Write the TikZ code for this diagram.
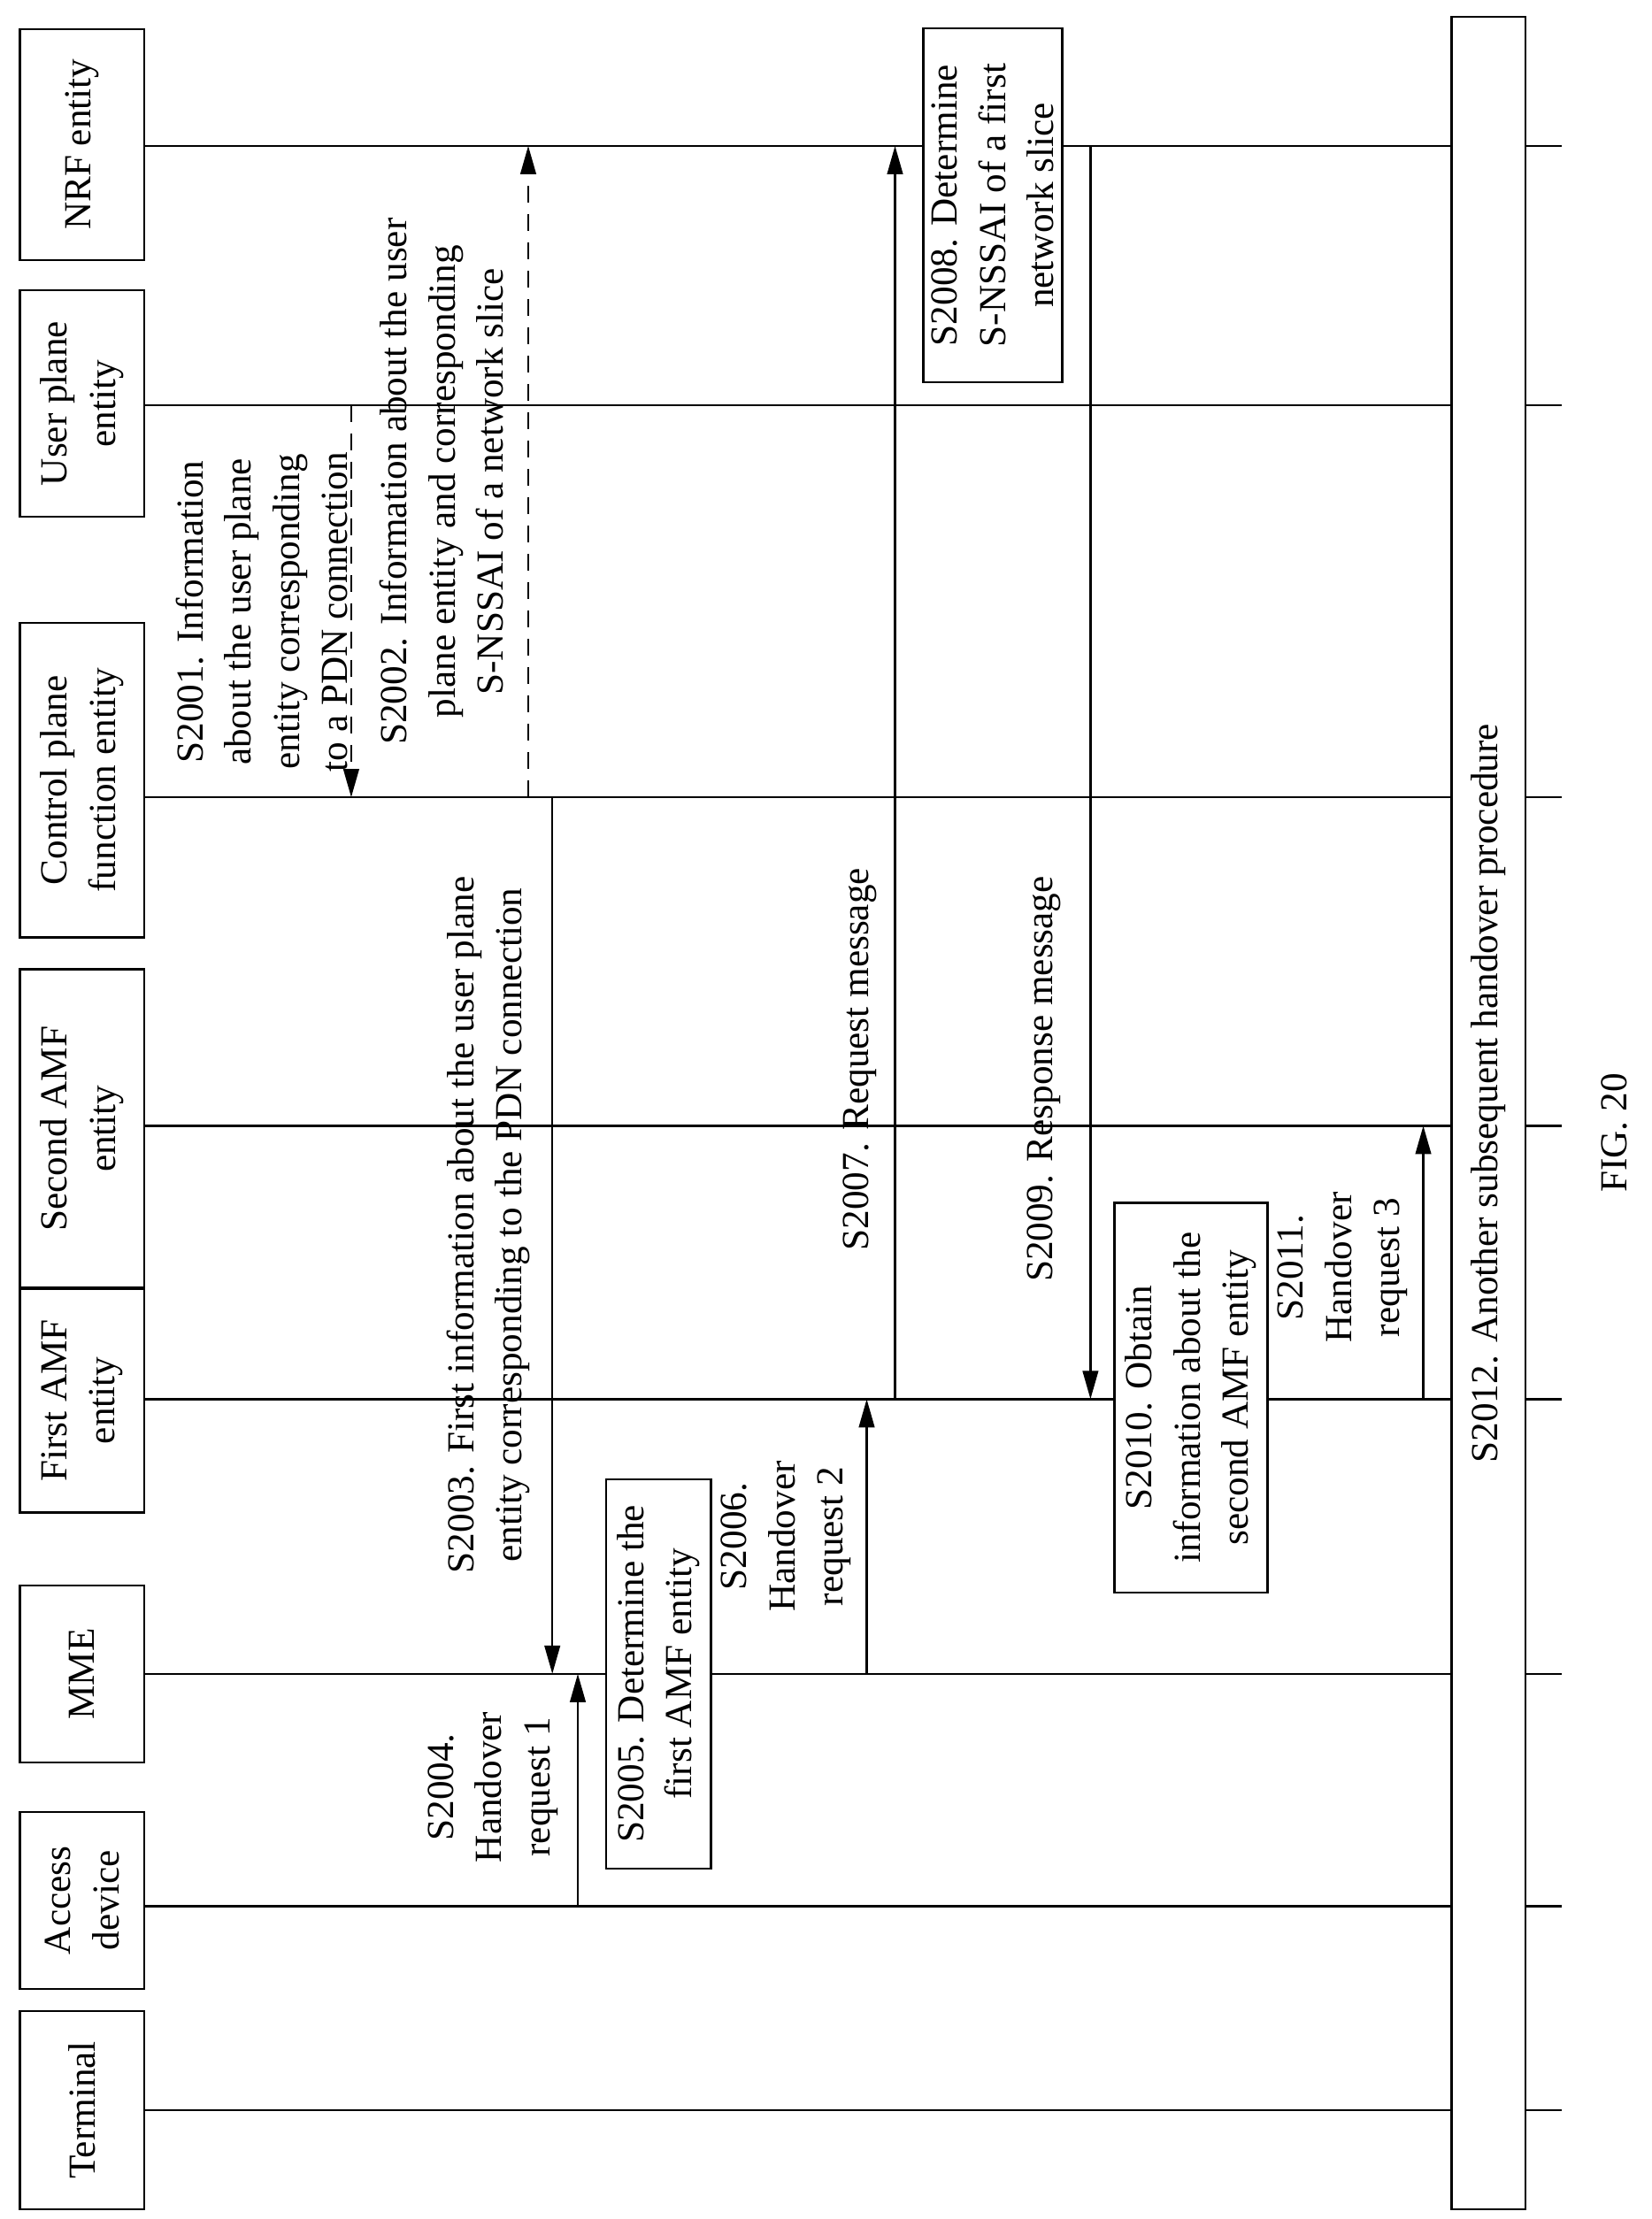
\documentclass[tikz,border=0pt]{standalone}
\usepackage{fontspec}
\setmainfont{Liberation Serif}
\usetikzlibrary{arrows.meta}
\begin{document}
\begin{tikzpicture}[x=1pt,y=-1pt,line width=1.5pt,
  every node/.style={font=\fontsize{27}{34}\selectfont},
  ent/.style={draw,rotate=90,align=center,inner sep=2pt},
  lbl/.style={rotate=90,align=center,inner sep=0pt},
  bx/.style={draw,rotate=90,align=center,inner sep=2pt},
  msg/.style={-{Triangle[length=20pt,width=11pt]}},
  dmsg/.style={msg,dashed,dash pattern=on 12pt off 8pt}]
\useasboundingbox (0,0) rectangle (1166,1567);
% entity boxes
\node[ent,minimum width=163,minimum height=88] (nrf) at (58,102) {NRF entity};
\node[ent,minimum width=160,minimum height=88] (up) at (58,285) {User plane\\entity};
\node[ent,minimum width=222,minimum height=88] (cp) at (58,551) {Control plane\\function entity};
\node[ent,minimum width=225,minimum height=88] (amf2) at (58,797) {Second AMF\\entity};
\node[ent,minimum width=158,minimum height=88] (amf1) at (58,989) {First AMF\\entity};
\node[ent,minimum width=125,minimum height=88] (mme) at (58,1182) {MME};
\node[ent,minimum width=125,minimum height=88] (acc) at (58,1342) {Access\\device};
\node[ent,minimum width=140,minimum height=88] (term) at (58,1490) {Terminal};
% lifeline ends
\coordinate (enrf) at (1103,103);
\coordinate (eup) at (1103,286);
\coordinate (ecp) at (1103,563);
\coordinate (eamf2) at (1103,795);
\coordinate (eamf1) at (1103,988);
\coordinate (emme) at (1103,1182);
\coordinate (eacc) at (1103,1346);
\coordinate (eterm) at (1103,1490);
\draw (102,103) -- (enrf);
\draw (102,286) -- (eup);
\draw (102,563) -- (ecp);
\draw (102,795) -- (eamf2);
\draw (102,988) -- (eamf1);
\draw (102,1182) -- (emme);
\draw (102,1346) -- (eacc);
\draw (102,1490) -- (eterm);
% S2012 box
\draw[fill=white] (1025,12) rectangle (1077,1560);
\node[lbl] (s12) at (1051,772) {S2012. Another subsequent handover procedure};
% messages
\coordinate (a1s) at (248,286); \coordinate (a1e) at (248,563);
\draw[dmsg] (a1s) -- (a1e);
\node[lbl] (l1) at (185,432) {S2001. Information\\about the user plane\\entity corresponding\\to a PDN connection};
\coordinate (a2s) at (373,563); \coordinate (a2e) at (373,103);
\draw[dmsg] (a2s) -- (a2e);
\node[lbl] (l2) at (312,340) {S2002. Information about the user\\plane entity and corresponding\\S-NSSAI of a network slice};
\coordinate (a3s) at (390,563); \coordinate (a3e) at (390,1182);
\draw[msg] (a3s) -- (a3e);
\node[lbl] (l3) at (345,865) {S2003. First information about the user plane\\entity corresponding to the PDN connection};
\coordinate (a4s) at (408,1346); \coordinate (a4e) at (408,1182);
\draw[msg] (a4s) -- (a4e);
\node[lbl] (l4) at (348,1262) {S2004.\\Handover\\request 1};
\node[bx,minimum width=275,minimum height=74,fill=white] (b5) at (465,1182) {S2005. Determine the\\first AMF entity};
\coordinate (a6s) at (612,1182); \coordinate (a6e) at (612,988);
\draw[msg] (a6s) -- (a6e);
\node[lbl] (l6) at (555,1085) {S2006.\\Handover\\request 2};
\coordinate (a7s) at (632,988); \coordinate (a7e) at (632,103);
\draw[msg] (a7s) -- (a7e);
\node[lbl] (l7) at (607,748) {S2007. Request message};
\node[bx,minimum width=250,minimum height=98,fill=white] (b8) at (701,145) {S2008. Determine\\S-NSSAI of a first\\network slice};
\coordinate (a9s) at (770,103); \coordinate (a9e) at (770,988);
\draw[msg] (a9s) -- (a9e);
\node[lbl] (l9) at (737,762) {S2009. Response message};
\node[bx,minimum width=275,minimum height=108,fill=white] (b10) at (841,987) {S2010. Obtain\\information about the\\second AMF entity};
\coordinate (a11s) at (1005,988); \coordinate (a11e) at (1005,795);
\draw[msg] (a11s) -- (a11e);
\node[lbl] (l11) at (948,895) {S2011.\\Handover\\request 3};
\node[lbl] (fig) at (1140,800) {FIG. 20};
\end{tikzpicture}
\end{document}
